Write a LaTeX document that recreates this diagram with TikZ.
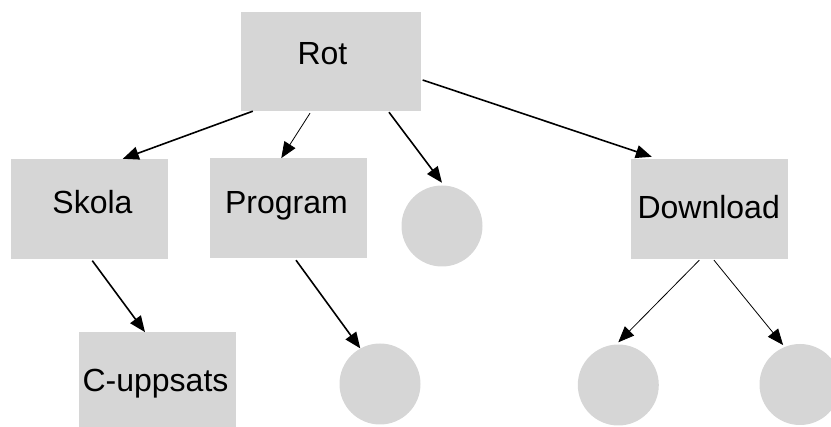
\documentclass[tikz,border=0pt]{standalone}
\usepackage{fontspec}
\setmainfont{Liberation Sans}
\usetikzlibrary{arrows.meta}
\definecolor{boxgray}{RGB}{214,214,214}
\begin{document}
\begin{tikzpicture}[x=1pt,y=-1pt,
  box/.style={draw=none,fill=boxgray,rectangle,inner sep=0pt},
  circ/.style={draw=none,fill=boxgray,circle,inner sep=0pt,minimum size=81pt},
  lbl/.style={anchor=base,inner sep=0pt,font=\fontsize{32}{38}\selectfont},
  arr/.style={-{Triangle[length=16pt,width=13pt]},line width=1.6pt},
  arrthin/.style={-{Triangle[length=16pt,width=13pt]},line width=0.8pt}]
\useasboundingbox (0,0) rectangle (831,427);
% boxes
\node[box,minimum width=180pt,minimum height=99pt] (rot) at (331,61.5) {};
\node[box,minimum width=156.7pt,minimum height=100pt] (skola) at (89.3,209) {};
\node[box,minimum width=156.7pt,minimum height=100pt] (program) at (288.3,208.3) {};
\node[box,minimum width=156.7pt,minimum height=100pt] (download) at (709.3,209) {};
\node[box,minimum width=157pt,minimum height=100pt] (cupp) at (157.5,382.3) {};
% circles
\node[circ] (c1) at (442,226) {};
\node[circ] (c2) at (380,384) {};
\node[circ] (c3) at (618.3,385) {};
\node[circ] (c4) at (800,384.5) {};
% labels
\node[lbl] (trot) at (322.5,65) {Rot};
\node[lbl] (tskola) at (92.5,214) {Skola};
\node[lbl] (tprogram) at (286.5,214) {Program};
\node[lbl] (tdownload) at (708.7,218.3) {Download};
\node[lbl] (tcupp) at (155.5,391.7) {C-uppsats};
% connectors
\draw[arr] ([xshift=12pt]rot.south west) -- ([xshift=33.5pt]skola.north);
\draw[arrthin] ([xshift=-21pt,yshift=-2pt]rot.south) -- ([xshift=-7pt]program.north);
\draw[arr] ([xshift=58pt,yshift=-1pt]rot.south) -- ([yshift=2.5pt]c1.north);
\draw[arr] ([xshift=1.5pt,yshift=-18.5pt]rot.east) -- ([xshift=-57.5pt,yshift=2pt]download.north);
\draw[arr] ([xshift=3pt,yshift=-1.5pt]skola.south) -- ([xshift=-12.5pt]cupp.north);
\draw[arr] ([xshift=7.7pt,yshift=-1.7pt]program.south) -- (c2.119);
\draw[arrthin] ([xshift=-10pt,yshift=-1pt]download.south) -- ([yshift=2pt]c3.north);
\draw[arrthin] ([xshift=4.7pt,yshift=-1pt]download.south) -- ([xshift=-1pt,yshift=2pt]c4.113);
\end{tikzpicture}
\end{document}
